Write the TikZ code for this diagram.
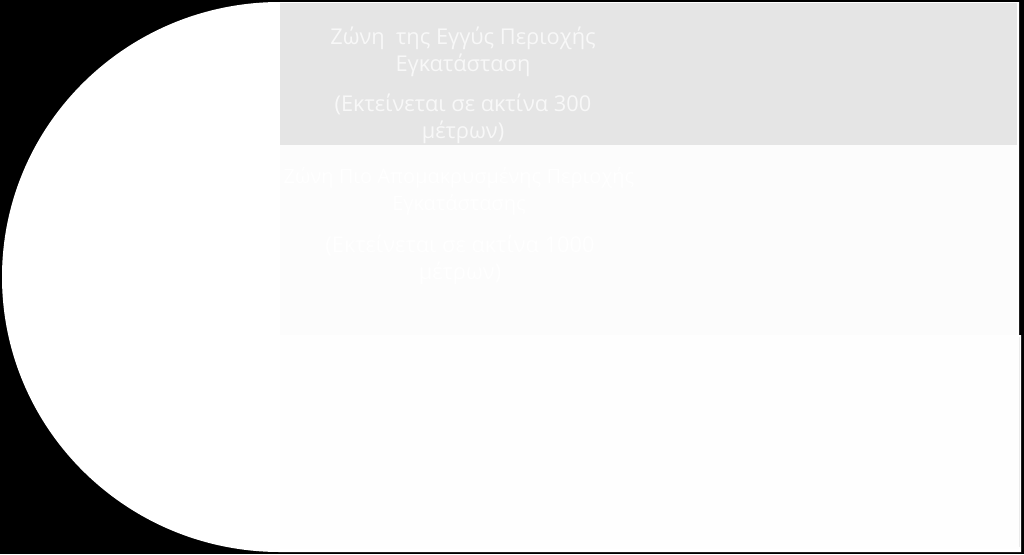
\documentclass[tikz,border=0pt]{standalone}
\usepackage{fontspec}
\setmainfont{Open Sans}
\definecolor{bandgrey}{HTML}{E5E5E5}
\definecolor{bandpale}{HTML}{FCFCFC}
\definecolor{bandlow}{HTML}{FEFEFE}
\definecolor{txtA}{HTML}{F8F8F8}
\tikzset{
  zonetext/.style={align=center, font=\fontsize{21.8}{27}\selectfont, inner sep=0pt, anchor=center},
}
\begin{document}
\begin{tikzpicture}[x=1pt,y=-1pt]
\useasboundingbox (0,0) rectangle (1024,554);
\fill[black] (0,0) rectangle (1024,554);
% white D-shaped base
\fill[white] (280,2) -- (1019,2) -- (1019,335) -- (1021,335) -- (1021,552) -- (280,552)
  arc[start angle=90, end angle=270, x radius=278, y radius=275] -- cycle;
% bands
\fill[bandgrey] (280,3) rectangle (1017,145);
\fill[bandpale] (280,145) rectangle (1017,335);
\fill[bandlow] (280,335) rectangle (1021,549);
\draw[black!8] (1019,337) -- (1019,547);
% texts
\node[zonetext, text=txtA] (t1) at (463,51.5) {Ζώνη\ \ της Εγγύς Περιοχής\\Εγκατάσταση};
\node[zonetext, text=txtA] (t2) at (463,118.5) {(Εκτείνεται σε ακτίνα 300\\μέτρων)};
\node[zonetext, text=white, font=\fontsize{20}{27}\selectfont] (t3) at (459,191) {Ζώνη Πιο Απομακρυσμένης Περιοχής\\Εγκατάστασης};
\node[zonetext, text=white] (t4) at (460,260) {(Εκτείνεται σε ακτίνα 1000\\μέτρων)};
\end{tikzpicture}
\end{document}
